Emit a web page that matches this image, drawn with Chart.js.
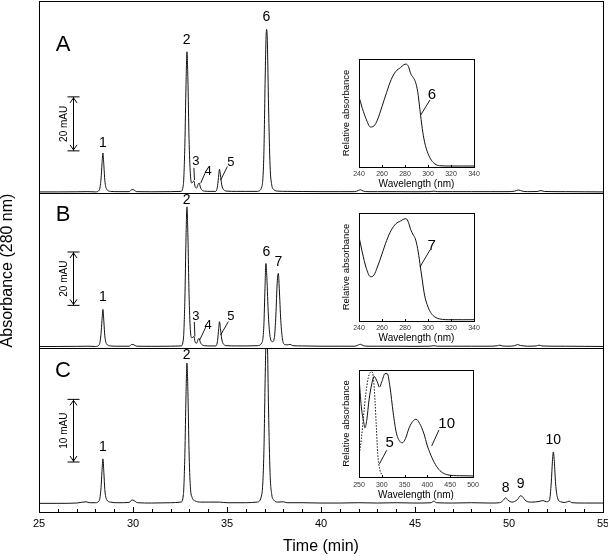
<!DOCTYPE html>
<html>
<head>
<meta charset="utf-8">
<script src="https://cdn.jsdelivr.net/npm/chart.js@4.4.1/dist/chart.umd.min.js"></script>
<style>
  body { margin: 0; background: #fff; }
  #wrap { position: relative; width: 608px; height: 556px; overflow: hidden; background: #fff; }
  canvas { position: absolute; }
</style>
</head>
<body>
<div id="wrap">
  <canvas id="panelA" width="608" height="193" style="left:0;top:0"></canvas>
  <canvas id="panelB" width="608" height="155" style="left:0;top:193px"></canvas>
  <canvas id="panelC" width="608" height="208" style="left:0;top:348px"></canvas>
  <canvas id="insetA" width="139" height="134" style="left:341px;top:56px"></canvas>
  <canvas id="insetB" width="139" height="134" style="left:341px;top:210px"></canvas>
  <canvas id="insetC" width="138" height="134" style="left:341px;top:367px"></canvas>
</div>
<script>
// ---- chromatogram A (time in min, absorbance in mAU above baseline)
let timeA = [25.0, 26.0, 27.0, 27.6, 28.0, 28.2, 28.3, 28.35, 28.4, 28.45, 28.5, 28.6, 28.8, 29.2, 29.8, 29.95, 30.05, 30.2, 31.0, 32.0,
  32.55, 32.68, 32.76, 32.82, 32.87, 32.92, 32.98, 33.05, 33.12, 33.18, 33.24, 33.3, 33.38, 33.46, 33.52, 33.58, 33.68, 33.8, 34.1,
  34.4, 34.5, 34.56, 34.6, 34.65, 34.72, 34.82, 35.0, 35.5, 36.0, 36.6, 36.85, 36.96, 37.03, 37.08, 37.11, 37.15, 37.21, 37.29, 37.38,
  37.5, 37.7, 38.2, 39.0, 40.0, 41.0, 41.8, 42.0, 42.1, 42.25, 42.5, 43.0, 44.0, 45.0, 45.8, 46.0, 46.2, 47.0, 48.0, 49.0, 50.0,
  50.3, 50.5, 50.7, 51.0, 51.5, 51.7, 51.9, 52.5, 53.0, 54.0, 55.0];
let absA = [0.2, 0.2, 0.25, 0.3, 0.2, 0.8, 5, 10.5, 14.6, 10, 4.5, 1.2, 0.4, 0.3, 0.3, 1.1, 0.9, 0.3, 0.25, 0.3,
  0.4, 3, 18, 40, 52.1, 42, 20, 7, 3.5, 3.8, 4.3, 2.2, 1.6, 3.0, 3.5, 2.0, 0.8, 0.5, 0.4,
  0.4, 2.5, 6.5, 8.6, 6.5, 2.8, 1.0, 0.5, 0.4, 0.4, 0.4, 2, 14, 42, 58, 60.4, 55, 32, 10, 2.8,
  1.0, 0.5, 0.4, 0.35, 0.3, 0.3, 0.3, 0.8, 1.0, 0.5, 0.3, 0.3, 0.3, 0.25, 0.3, 0.5, 0.3, 0.3, 0.3, 0.3, 0.3,
  0.5, 0.9, 0.5, 0.3, 0.35, 0.7, 0.35, 0.3, 0.3, 0.25, 0.2];

// ---- chromatogram B
let timeB = [25.0, 26.0, 27.0, 27.6, 28.0, 28.2, 28.3, 28.35, 28.4, 28.45, 28.5, 28.6, 28.8, 29.2, 29.8, 29.95, 30.05, 30.2, 31.0, 32.0,
  32.55, 32.68, 32.76, 32.82, 32.87, 32.92, 32.98, 33.05, 33.12, 33.18, 33.24, 33.3, 33.38, 33.46, 33.52, 33.58, 33.68, 33.8, 34.1,
  34.4, 34.5, 34.56, 34.6, 34.65, 34.72, 34.82, 35.0, 35.5, 36.0, 36.6, 36.85, 36.96, 37.02, 37.07, 37.12, 37.2, 37.3, 37.42,
  37.52, 37.6, 37.67, 37.73, 37.78, 37.86, 37.95, 38.05, 38.2, 38.35, 38.5, 39.0, 40.0, 41.0, 41.8, 42.0, 42.1, 42.25, 42.5,
  43.0, 44.0, 45.0, 45.8, 46.0, 46.2, 47.0, 48.0, 49.0, 49.4, 49.5, 49.65, 50.0, 50.3, 50.45, 50.6, 51.0, 51.45, 51.6, 51.75,
  52.5, 53.0, 54.0, 55.0];
let absB = [0.2, 0.2, 0.25, 0.3, 0.2, 0.8, 5, 10, 14.1, 9.5, 4.2, 1.1, 0.4, 0.3, 0.3, 1.0, 0.8, 0.3, 0.25, 0.3,
  0.4, 3, 18, 41, 52.5, 42, 20, 6.5, 3.5, 3.6, 4.0, 2.0, 1.4, 2.8, 3.2, 1.8, 0.8, 0.5, 0.4,
  0.4, 2.5, 7, 9.5, 7, 3, 1.0, 0.5, 0.4, 0.4, 0.5, 1.5, 8, 22, 31.3, 26, 12, 3.5, 2.0,
  3.5, 12, 24, 27.6, 22, 10, 3, 1.0, 0.8, 1.0, 0.5, 0.4, 0.3, 0.3, 0.3, 0.8, 1.0, 0.5, 0.3,
  0.3, 0.3, 0.25, 0.3, 0.5, 0.3, 0.3, 0.3, 0.3, 0.5, 0.7, 0.4, 0.3, 0.5, 0.9, 0.6, 0.3, 0.4, 0.7, 0.4,
  0.3, 0.3, 0.25, 0.2];

// ---- chromatogram C
let timeC = [25.0, 26.0, 27.0, 27.5, 27.7, 28.0, 28.2, 28.3, 28.35, 28.4, 28.45, 28.5, 28.6, 28.8, 29.2, 29.8, 29.95, 30.05, 30.25,
  31.0, 32.0, 32.55, 32.68, 32.76, 32.82, 32.87, 32.92, 32.98, 33.05, 33.15, 33.3, 33.6, 34.0, 34.6, 35.0, 36.0, 36.6, 36.85,
  36.96, 37.03, 37.08, 37.11, 37.15, 37.21, 37.29, 37.38, 37.5, 37.7, 38.0, 38.2, 39.0, 40.0, 41.0, 42.0, 43.0, 44.0, 45.0,
  45.85, 46.0, 46.15, 47.0, 48.0, 49.0, 49.5, 49.7, 49.82, 49.95, 50.15, 50.45, 50.6, 50.7, 50.9, 51.2, 51.6, 51.8, 52.0,
  52.15, 52.25, 52.31, 52.36, 52.41, 52.48, 52.58, 52.75, 53.0, 53.2, 53.35, 54.0, 55.0];
let absC = [0.1, 0.1, 0.15, 0.35, 0.2, 0.2, 0.5, 2.6, 5.2, 7.2, 5, 2.3, 0.7, 0.3, 0.2, 0.25, 0.65, 0.55, 0.2,
  0.15, 0.2, 0.3, 1.5, 8, 17.5, 22.5, 18, 8.5, 2.8, 1.0, 0.5, 0.3, 0.3, 0.3, 0.2, 0.2, 0.3, 1.5,
  8, 20, 27, 28.5, 26, 15, 5, 1.5, 0.6, 0.3, 0.35, 0.2, 0.2, 0.15, 0.15, 0.2, 0.15, 0.2, 0.15,
  0.2, 0.45, 0.2, 0.15, 0.2, 0.15, 0.2, 0.6, 1.0, 0.6, 0.3, 0.7, 1.3, 1.2, 0.5, 0.3, 0.4, 0.55, 0.35,
  0.6, 3.5, 6.8, 8.3, 6.8, 3.2, 1.0, 0.35, 0.25, 0.45, 0.2, 0.15, 0.15];

// ---- UV spectra of the insets (relative absorbance)
let wlA = [240, 243, 246, 250, 253, 256, 260, 264, 268, 272, 276, 279, 281, 283, 285, 287, 289, 291, 293, 295, 297, 300, 303, 306, 310, 320, 330, 340];
let specA = [0.65, 0.54, 0.45, 0.37, 0.38, 0.435, 0.56, 0.69, 0.81, 0.885, 0.92, 0.947, 0.953, 0.93, 0.863, 0.83, 0.79, 0.70, 0.53, 0.357, 0.233, 0.124, 0.062, 0.028, 0.012, 0.009, 0.009, 0.009];
let wlB = [240, 243, 246, 250, 253, 256, 260, 264, 268, 272, 276, 279, 281, 283, 285, 287, 289, 291, 293, 295, 297, 300, 303, 306, 310, 320, 330, 340];
let specB = [0.78, 0.63, 0.50, 0.41, 0.425, 0.50, 0.62, 0.745, 0.84, 0.90, 0.925, 0.944, 0.947, 0.913, 0.845, 0.80, 0.76, 0.67, 0.53, 0.38, 0.24, 0.13, 0.068, 0.037, 0.019, 0.012, 0.012, 0.012];
let wlC10 = [250, 255, 260, 263, 267, 272, 278, 283, 290, 295, 300, 307, 312, 318, 325, 332, 340, 345, 352, 360, 368, 375, 383, 392, 400, 410, 420, 430, 445, 470, 500];
let specC10 = [0.94, 0.66, 0.52, 0.46, 0.53, 0.72, 0.87, 0.94, 0.89, 0.84, 0.89, 0.966, 0.966, 0.84, 0.60, 0.41, 0.33, 0.32, 0.36, 0.46, 0.52, 0.54, 0.50, 0.41, 0.29, 0.18, 0.10, 0.05, 0.02, 0.012, 0.01];
let wlC5 = [250, 255, 260, 265, 270, 275, 278, 282, 285, 288, 291, 295, 300];
let specC5 = [0.19, 0.35, 0.57, 0.78, 0.92, 0.98, 0.985, 0.91, 0.72, 0.47, 0.22, 0.08, 0.02];

let timeTicks = [25, 30, 35, 40, 45, 50, 55];

const FONT = "'Liberation Sans', Arial, Helvetica, sans-serif";
Chart.defaults.font.family = FONT;
Chart.defaults.color = "#000";

let toPoints = (xs, ys) => xs.map((v, i) => ({ x: v, y: ys[i] }));

// annotations are given in data units and converted with the chart's own scales
function decorPlugin(deco) {
  return {
    id: "decor",
    afterDatasetsDraw(chart) {
      let ctx = chart.ctx, a = chart.chartArea, x = chart.scales.x, y = chart.scales.y;
      let px = (v) => x.getPixelForValue(v), py = (v) => y.getPixelForValue(v);
      ctx.save();
      ctx.strokeStyle = "#000";
      ctx.fillStyle = "#000";
      ctx.lineWidth = 1;
      ctx.strokeRect(Math.round(a.left) + 0.5, Math.round(a.top) + 0.5, Math.round(a.right - a.left), Math.round(a.bottom - a.top));

      // tick marks pointing inwards
      if (deco.ticks) {
        for (let v = x.min; v <= x.max + 1e-6; v += deco.ticks.minor) {
          let major = Math.abs(v / deco.ticks.major - Math.round(v / deco.ticks.major)) < 1e-6;
          let len = major ? deco.ticks.majorLen : deco.ticks.minorLen;
          if (!len) continue;
          let xx = Math.round(px(v)) + 0.5;
          ctx.beginPath();
          ctx.moveTo(xx, a.bottom);
          ctx.lineTo(xx, a.bottom - len);
          ctx.stroke();
        }
      }

      if (deco.letter) {
        ctx.font = "22px " + FONT;
        ctx.textAlign = "center";
        ctx.textBaseline = "middle";
        ctx.fillText(deco.letter.text, px(deco.letter.t), py(deco.letter.v));
      }

      if (deco.bar) {
        let b = deco.bar, bx = Math.round(px(b.t)) + 0.5, y1 = py(b.from), y2 = py(b.to);
        ctx.beginPath();
        ctx.moveTo(bx, y1); ctx.lineTo(bx, y2);
        ctx.moveTo(bx - 6, y1); ctx.lineTo(bx + 6, y1);
        ctx.moveTo(bx - 6, y2); ctx.lineTo(bx + 6, y2);
        ctx.moveTo(bx - 3.5, y2 + 6); ctx.lineTo(bx, y2 + 1); ctx.lineTo(bx + 3.5, y2 + 6);
        ctx.moveTo(bx - 3.5, y1 - 6); ctx.lineTo(bx, y1 - 1); ctx.lineTo(bx + 3.5, y1 - 6);
        ctx.stroke();
        ctx.save();
        ctx.translate(bx - 9, (y1 + y2) / 2);
        ctx.rotate(-Math.PI / 2);
        ctx.font = "10px " + FONT;
        ctx.textAlign = "center";
        ctx.textBaseline = "middle";
        ctx.fillText(b.text, 0, 0);
        ctx.restore();
      }

      if (deco.leaders) {
        ctx.lineWidth = 0.9;
        deco.leaders.forEach((l) => {
          ctx.beginPath();
          ctx.moveTo(px(l[0]), py(l[1]));
          ctx.lineTo(px(l[2]), py(l[3]));
          ctx.stroke();
        });
      }

      if (deco.labels) {
        ctx.textAlign = "center";
        ctx.textBaseline = "middle";
        deco.labels.text.forEach((txt, i) => {
          ctx.font = deco.labels.size[i] + "px " + FONT;
          ctx.fillText(txt, px(deco.labels.t[i]), py(deco.labels.v[i]));
        });
      }
      ctx.restore();
    },
  };
}

function baseOptions(pad, xMin, xMax, yMin, yMax) {
  return {
    responsive: false,
    animation: false,
    events: [],
    layout: { padding: pad },
    plugins: { legend: { display: false }, tooltip: { enabled: false } },
    scales: {
      x: { type: "linear", min: xMin, max: xMax, display: false },
      y: { type: "linear", min: yMin, max: yMax, display: false },
    },
  };
}

function lineSet(points, dash) {
  return {
    data: points,
    borderColor: "#111",
    borderWidth: 1,
    borderDash: dash || [],
    pointRadius: 0,
    cubicInterpolationMode: "monotone",
  };
}

// ---------- panel A
let optA = baseOptions({ left: 39, right: 5, top: 1, bottom: 0 }, 25, 55, -0.2, 70.9);
new Chart(document.getElementById("panelA"), {
  type: "line",
  data: { datasets: [lineSet(toPoints(timeA, absA))] },
  options: optA,
  plugins: [decorPlugin({
    letter: { text: "A", t: 26.28, v: 54.6 },
    bar: { t: 26.79, from: 15.4, to: 35.4, text: "20 mAU" },
    leaders: [[33.24, 9.1, 33.27, 4.6], [33.83, 7.1, 33.6, 3.4], [35.02, 9.6, 34.66, 4.6]],
    labels: {
      text: ["1", "2", "3", "4", "5", "6"],
      t: [28.4, 32.86, 33.35, 34.0, 35.21, 37.1],
      v: [18.3, 56.5, 11.5, 7.7, 11.2, 65.1],
      size: [14, 14, 13, 13, 13, 14],
    },
  })],
});

// ---------- panel B (carries the shared y axis title)
let optB = baseOptions({ left: 0, right: 5, top: 0, bottom: 0 }, 25, 55, -0.37, 57.7);
optB.scales.y = {
  type: "linear", min: -0.37, max: 57.7, display: true,
  grid: { display: false, drawTicks: false }, border: { display: false }, ticks: { display: false },
  title: { display: true, text: "Absorbance (280 nm)", padding: 0, font: { size: 16, lineHeight: 0.9 } },
  afterFit: (s) => { s.width = 39; s.paddingTop = 0; s.paddingBottom = 0; },
};
new Chart(document.getElementById("panelB"), {
  type: "line",
  data: { datasets: [lineSet(toPoints(timeB, absB))] },
  options: optB,
  plugins: [decorPlugin({
    letter: { text: "B", t: 26.28, v: 49.4 },
    bar: { t: 26.79, from: 15.6, to: 35.6, text: "20 mAU" },
    leaders: [[33.26, 9.4, 33.29, 4.0], [33.88, 7.6, 33.56, 2.8], [35.07, 9.5, 34.66, 4.5]],
    labels: {
      text: ["1", "2", "3", "4", "5", "6", "7"],
      t: [28.4, 32.86, 33.35, 34.0, 35.21, 37.1, 37.73],
      v: [18.8, 55.1, 11.6, 8.0, 11.3, 35.7, 31.9],
      size: [14, 14, 13, 13, 13, 14, 14],
    },
  })],
});

// ---------- panel C (carries the time axis)
let optC = baseOptions({ left: 39, right: 5, top: 0, bottom: 0 }, 25, 55, -1.28, 24.9);
optC.scales.x = {
  type: "linear", min: 25, max: 55, display: true,
  grid: { display: false, drawTicks: false }, border: { display: false },
  afterBuildTicks: (s) => { s.ticks = timeTicks.map((v) => ({ value: v })); },
  ticks: { padding: 5, font: { size: 11 }, maxRotation: 0 },
  title: { display: true, text: "Time (min)", padding: 0, font: { size: 16 } },
  afterFit: (s) => { s.height = 44; s.paddingLeft = 0; s.paddingRight = 0; },
};
new Chart(document.getElementById("panelC"), {
  type: "line",
  data: { datasets: [lineSet(toPoints(timeC, absC))] },
  options: optC,
  plugins: [decorPlugin({
    ticks: { major: 5, minor: 1, majorLen: 5, minorLen: 3 },
    letter: { text: "C", t: 26.28, v: 21.2 },
    bar: { t: 26.79, from: 6.7, to: 16.7, text: "10 mAU" },
    labels: {
      text: ["1", "2", "8", "9", "10"],
      t: [28.4, 32.86, 49.82, 50.62, 52.36],
      v: [9.0, 23.7, 2.5, 3.2, 10.2],
      size: [14, 14, 14, 14, 14],
    },
  })],
});

// ---------- insets with UV spectra
function insetChart(id, datasets, xMin, xMax, step, tickPad, deco) {
  let opt = baseOptions({ left: 0, right: 6, top: 3, bottom: 0 }, xMin, xMax, 0, 1);
  opt.scales.x = {
    type: "linear", min: xMin, max: xMax, display: true,
    grid: { display: false, drawTicks: false }, border: { display: false },
    ticks: { stepSize: step, padding: tickPad, color: "#333", font: { size: 7 }, maxRotation: 0 },
    title: { display: true, text: "Wavelength (nm)", padding: 0, font: { size: 10 } },
    afterFit: (s) => { s.height = deco.xHeight; s.paddingLeft = 0; s.paddingRight = 0; },
  };
  opt.scales.y = {
    type: "linear", min: 0, max: 1, display: true,
    grid: { display: false, drawTicks: false }, border: { display: false }, ticks: { display: false },
    title: { display: true, text: "Relative absorbance", padding: 0, font: { size: 9.5 } },
    afterFit: (s) => { s.width = 18; s.paddingTop = 0; s.paddingBottom = 0; },
  };
  return new Chart(document.getElementById(id), {
    type: "line",
    data: { datasets },
    options: opt,
    plugins: [decorPlugin(deco)],
  });
}

insetChart("insetA", [lineSet(toPoints(wlA, specA))], 240, 340, 20, 3, {
  xHeight: 23,
  ticks: { major: 20, minor: 20, majorLen: 2, minorLen: 2 },
  leaders: [[301.7, 0.62, 293.6, 0.48]],
  labels: { text: ["6"], t: [303.5], v: [0.667], size: [15] },
});
insetChart("insetB", [lineSet(toPoints(wlB, specB))], 240, 340, 20, 3, {
  xHeight: 23,
  ticks: { major: 20, minor: 20, majorLen: 2, minorLen: 2 },
  leaders: [[301.7, 0.657, 293.0, 0.5]],
  labels: { text: ["7"], t: [303.2], v: [0.70], size: [15] },
});
insetChart("insetC", [lineSet(toPoints(wlC10, specC10)), lineSet(toPoints(wlC5, specC5), [1.5, 1.5])], 250, 500, 50, 4, {
  xHeight: 24,
  ticks: { major: 50, minor: 50, majorLen: 2, minorLen: 2 },
  leaders: [[425.4, 0.44, 409.4, 0.29], [310.7, 0.25, 294.5, 0.12]],
  labels: { text: ["10", "5"], t: [442.3, 317.3], v: [0.50, 0.315], size: [15, 15] },
});
</script>
</body>
</html>
